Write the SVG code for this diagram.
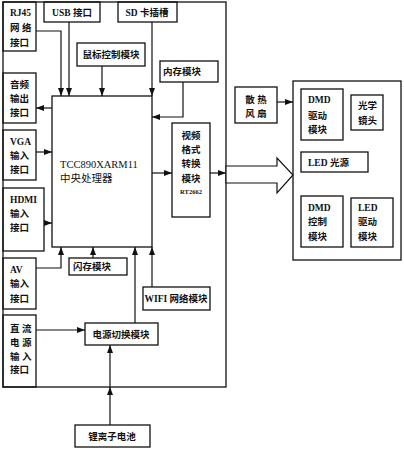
<svg xmlns="http://www.w3.org/2000/svg" width="404" height="450" viewBox="0 0 404 450">
<defs>
<marker id="ah" viewBox="0 0 8 6" refX="8" refY="3" markerWidth="8" markerHeight="6" markerUnits="userSpaceOnUse" orient="auto">
<path d="M0,0 L8,3 L0,6 z" fill="#111"/>
</marker>
<style>
rect{fill:none;stroke:#111;stroke-width:1.3}
.c path{fill:none;stroke:#111;stroke-width:1.2;marker-end:url(#ah)}
text{font-family:"Liberation Serif","Noto Sans CJK SC",serif;font-size:9.5px;font-weight:bold;fill:#111}
.m{text-anchor:middle}
.cpu{font-weight:normal;font-size:10.5px}
.s{font-size:6.5px}
</style>
</defs>
<rect width="404" height="450" style="fill:#fff;stroke:none"/>
<g id="outer"><rect x="3" y="2" width="223" height="385"/></g>
<g id="rj45"><rect x="3" y="2" width="33" height="49"/><text x="10" y="16">RJ45</text><text x="10" y="31">网 络</text><text x="10" y="46">接口</text></g>
<g id="usb"><rect x="44" y="2" width="56" height="20"/><text x="72" y="16" class="m">USB 接口</text></g>
<g id="sd"><rect x="118" y="2" width="59" height="20"/><text x="147" y="16" class="m">SD 卡插槽</text></g>
<g id="mouse"><rect x="77" y="43" width="68" height="23"/><text x="111" y="58" class="m">鼠标控制模块</text></g>
<g id="mem"><rect x="160" y="61" width="58" height="21"/><text x="182" y="75" class="m">内存模块</text></g>
<g id="audio"><rect x="3" y="73" width="33" height="50"/><text x="10" y="88">音频</text><text x="10" y="102">输出</text><text x="10" y="116">接口</text></g>
<g id="cpu"><rect x="52" y="96" width="100" height="151"/><text x="60" y="168" class="cpu">TCC890XARM11</text><text x="60" y="182" class="cpu">中央处理器</text></g>
<g id="vga"><rect x="3" y="130" width="33" height="50"/><text x="10" y="145">VGA</text><text x="10" y="159">输入</text><text x="10" y="173">接口</text></g>
<g id="hdmi"><rect x="3" y="188" width="41" height="63"/><text x="10" y="203">HDMI</text><text x="10" y="217">输入</text><text x="10" y="231">接口</text></g>
<g id="av"><rect x="3" y="258" width="33" height="51"/><text x="10" y="273">AV</text><text x="10" y="287">输入</text><text x="10" y="302">接口</text></g>
<g id="flash"><rect x="69" y="258" width="58" height="17"/><text x="92" y="270" class="m">闪存模块</text></g>
<g id="wifi"><rect x="143" y="287" width="67" height="23"/><text x="176" y="302" class="m">WIFI 网络模块</text></g>
<g id="power"><rect x="85" y="323" width="73" height="22"/><text x="121" y="338" class="m">电源切换模块</text></g>
<g id="dc"><rect x="3" y="315" width="33" height="72"/><text x="10" y="332">直 流</text><text x="10" y="346">电 源</text><text x="10" y="360">输 入</text><text x="10" y="373">接口</text></g>
<g id="battery"><rect x="75" y="425" width="75" height="22"/><text x="112" y="440" class="m">锂离子电池</text></g>
<g id="video"><rect x="172" y="123" width="38" height="94"/><text x="191" y="139" class="m">视频</text><text x="191" y="153" class="m">格式</text><text x="191" y="167" class="m">转换</text><text x="191" y="182" class="m">模块</text><text x="191" y="194" class="m s">RT2662</text></g>
<g id="fan"><rect x="235" y="87" width="42" height="36"/><text x="256" y="103" class="m">散 热</text><text x="256" y="117" class="m">风 扇</text></g>
<g id="projector"><rect x="293" y="81" width="108" height="179"/></g>
<g id="dmddrv"><rect x="301" y="89" width="42" height="51"/><text x="308" y="103">DMD</text><text x="308" y="119">驱动</text><text x="308" y="133">模块</text></g>
<g id="lens"><rect x="351" y="95" width="32" height="35"/><text x="358" y="109">光学</text><text x="358" y="124">镜头</text></g>
<g id="led"><rect x="301" y="152" width="67" height="20"/><text x="308" y="166">LED 光源</text></g>
<g id="dmdctl"><rect x="301" y="196" width="42" height="51"/><text x="308" y="211">DMD</text><text x="308" y="225">控制</text><text x="308" y="240">模块</text></g>
<g id="leddrv"><rect x="351" y="198" width="42" height="49"/><text x="358" y="211">LED</text><text x="358" y="225">驱动</text><text x="358" y="240">模块</text></g>
<g id="connectors" class="c">
<path d="M36,31 H61 V96"/>
<path d="M69,22 V96"/>
<path d="M102,66 V96"/>
<path d="M152,22 V96"/>
<path d="M183,82 V117 H152"/>
<path d="M52,108 H36"/>
<path d="M36,152 H52"/>
<path d="M44,223 H52"/>
<path d="M36,268 H61 V247"/>
<path d="M93,258 V247"/>
<path d="M135,323 V247"/>
<path d="M152,287 V247"/>
<path d="M152,173 H172"/>
<path d="M210,173 H226"/>
<path d="M36,330 H85"/>
<path d="M110,425 V387"/>
<path d="M110,387 V345"/>
<path d="M277,102 H293"/>
<polygon points="226,166 277,166 277,158 293,175 277,193 277,183 226,183" style="fill:#fff;stroke:#111;stroke-width:1.2"/>
</g>
</svg>
